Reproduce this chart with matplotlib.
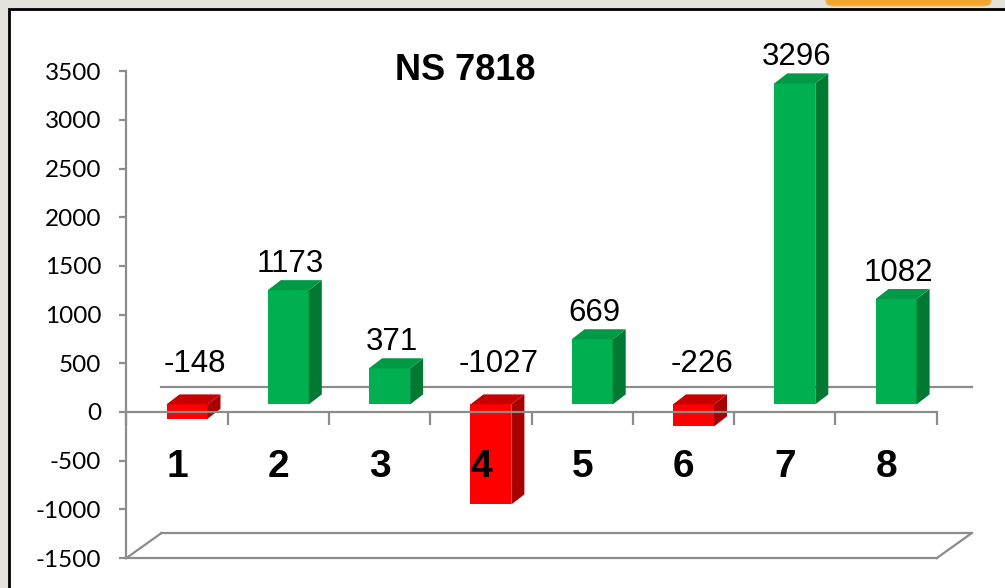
import matplotlib
matplotlib.use('Agg')
import matplotlib.pyplot as plt
from matplotlib.patches import Rectangle, Polygon, FancyBboxPatch

plt.rcParams['axes.unicode_minus'] = False

# 数据
categories = ['1', '2', '3', '4', '5', '6', '7', '8']
values = [-148, 1173, 371, -1027, 669, -226, 3296, 1082]
title = 'NS 7818'
yticks = [-1500, -1000, -500, 0, 500, 1000, 1500, 2000, 2500, 3000, 3500]

# 颜色
green = {'front': '#00B050', 'side': '#007A33', 'top': '#009945'}
red = {'front': '#FF0000', 'side': '#A80000', 'top': '#C80000'}
grey = '#8C8C8C'

# 像素 -> 数据单位 (一个类别 101.3 px, 1 单位 0.0974 px)
PX_CAT = 101.3
PX_VAL = 0.0974
def dx(px):
    return px / PX_CAT
def dy(px):
    return px / PX_VAL

fig = plt.figure(figsize=(10.05, 5.88), dpi=100)
fig.patch.set_facecolor('#E4E2DC')

# 白色图表区 + 黑框
fig.patches.append(Rectangle((9 / 1005, -0.01), 1.0, 1 - 9 / 588 + 0.01,
                             transform=fig.transFigure, facecolor='white',
                             edgecolor='black', linewidth=2, zorder=-2))
fig.patches.append(FancyBboxPatch((826 / 1005, 0.99), 165 / 1005, 0.03,
                                  boxstyle='round,pad=0,rounding_size=0.008',
                                  transform=fig.transFigure, facecolor='#F2A52E',
                                  edgecolor='#F0B860', linewidth=1, zorder=-2))

ax = fig.add_axes([0, 0, 1, 1])
ax.set_zorder(1)
ax.set_facecolor('none')
ax.set_xlim(-75.7 / PX_CAT, (1005 - 75.7) / PX_CAT)
ax.set_ylim(-dy(588 - 412), dy(412))

n = len(values)
left, right = 0.5, n + 0.5
ymin, ymax = yticks[0], yticks[-1]

# 伪3D的偏移
back_dx, back_dy = dx(35), dy(25)
bar_off, bar_w = dx(10), dx(41)
bar_base = dy(7.6)
depth_dx, depth_dy = dx(13), dy(10)

# 坐标轴
for s in ['top', 'right']:
    ax.spines[s].set_visible(False)
ax.spines['left'].set_position(('data', left))
ax.spines['left'].set_bounds(ymin, ymax)
ax.spines['bottom'].set_position(('data', 0))
ax.spines['bottom'].set_bounds(left, right)
for s in ['left', 'bottom']:
    ax.spines[s].set_color(grey)
    ax.spines[s].set_linewidth(1.6)
ax.spines['bottom'].set_zorder(6)
ax.set_yticks(yticks)
ax.set_xticks([left + k for k in range(n + 1)])
ax.set_xticklabels([])
ax.tick_params(axis='y', direction='out', length=5, width=1.6, color=grey,
               pad=13, labelsize=17.5)
ax.tick_params(axis='x', direction='out', length=9.5, width=1.6, color=grey)
for lab in ax.get_yticklabels():
    lab.set_family(['Lato', 'DejaVu Sans'])

# 背面和底面
ax.plot([left + back_dx, right + back_dx], [back_dy, back_dy], color=grey, lw=1.6, zorder=1)
ax.plot([left, right], [ymin, ymin], color=grey, lw=1.6, zorder=1)
ax.plot([left + back_dx, right + back_dx], [ymin + back_dy, ymin + back_dy], color=grey, lw=1.6, zorder=1)
ax.plot([left, left + back_dx], [ymin, ymin + back_dy], color=grey, lw=1.6, zorder=1)
ax.plot([right, right + back_dx], [ymin, ymin + back_dy], color=grey, lw=1.6, zorder=1)

# 柱子
for i, v in enumerate(values, start=1):
    c = green if v >= 0 else red
    x0 = i + bar_off - bar_w / 2
    x1 = x0 + bar_w
    lo, hi = (bar_base, bar_base + v) if v >= 0 else (bar_base + v, bar_base)
    ax.add_patch(Rectangle((x0, lo), bar_w, hi - lo, facecolor=c['front'], edgecolor='none', zorder=3))
    ax.add_patch(Polygon([(x1, lo), (x1 + depth_dx, lo + depth_dy), (x1 + depth_dx, hi + depth_dy), (x1, hi)],
                         closed=True, facecolor=c['side'], edgecolor='none', zorder=3))
    ax.add_patch(Polygon([(x0, hi), (x1, hi), (x1 + depth_dx, hi + depth_dy), (x0 + depth_dx, hi + depth_dy)],
                         closed=True, facecolor=c['top'], edgecolor='none', zorder=3))
    # 数据标签
    if v >= 0:
        ax.text(i + bar_off + dx(2), v + bar_base + depth_dy + dy(8), str(v),
                ha='center', va='baseline', fontsize=22.5, family='Liberation Sans', zorder=7)
    else:
        ax.text(i + bar_off + dx(8), dy(40), str(v),
                ha='center', va='baseline', fontsize=22.5, family='Liberation Sans', zorder=7)
    # 类别标签
    ax.text(i, -dy(65), categories[i - 1], ha='center', va='baseline', fontsize=28,
            fontweight='bold', family='Liberation Sans', zorder=8)

# 标题
ax.text((465 - 75.7) / PX_CAT, dy(412 - 80), title, ha='center', va='baseline',
        fontsize=26, fontweight='bold', family='Liberation Sans')

fig.savefig('out.png', dpi=100)
